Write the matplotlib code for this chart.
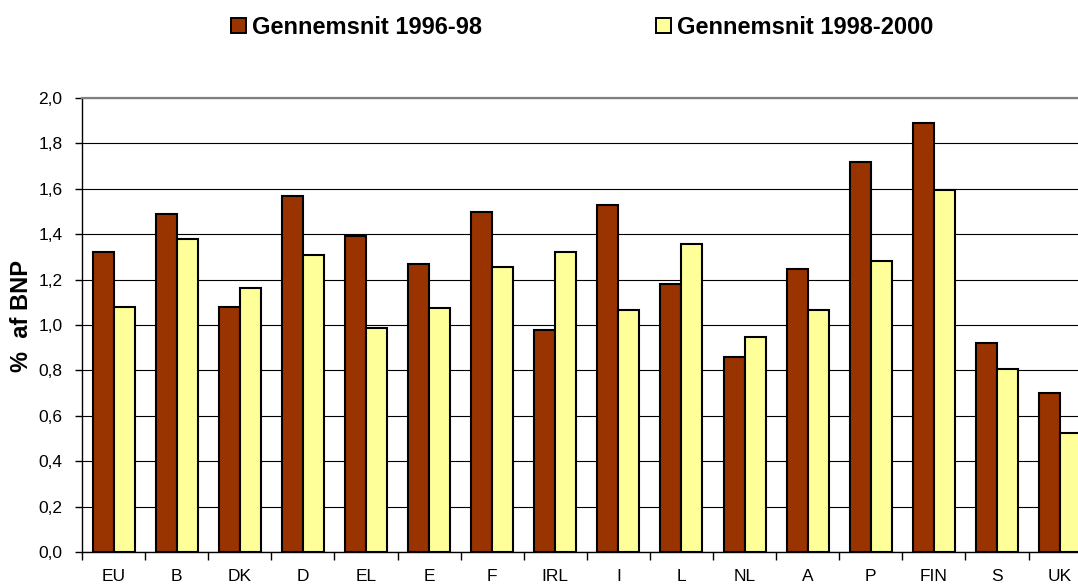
import numpy as np
import matplotlib
matplotlib.use("Agg")
import matplotlib.pyplot as plt
from matplotlib.patches import Patch

plt.rcParams["font.family"] = ["Liberation Sans", "DejaVu Sans"]

countries = ["EU", "B", "DK", "D", "EL", "E", "F", "IRL", "I", "L",
             "NL", "A", "P", "FIN", "S", "UK"]
avg_1996_98 = [1.32, 1.49, 1.08, 1.57, 1.39, 1.27, 1.50, 0.98, 1.53, 1.18,
               0.86, 1.245, 1.72, 1.89, 0.92, 0.70]
avg_1998_2000 = [1.08, 1.38, 1.165, 1.31, 0.985, 1.075, 1.255, 1.32, 1.065, 1.355,
                 0.945, 1.065, 1.28, 1.595, 0.805, 0.525]
series_names = ["Gennemsnit 1996-98", "Gennemsnit 1998-2000"]
yticks = [0.0, 0.2, 0.4, 0.6, 0.8, 1.0, 1.2, 1.4, 1.6, 1.8, 2.0]

c_dark = "#993300"
c_light = "#FFFF99"

W, H = 1078, 586
fig = plt.figure(figsize=(W / 100, H / 100), dpi=100)
ax = fig.add_axes([82 / W, 34 / H, 1009.6 / W, 454 / H])

x = np.arange(len(countries))
bw = 1 / 3
ax.bar(x - bw / 2, avg_1996_98, bw, color=c_dark, edgecolor="black",
       linewidth=1.5, zorder=3)
ax.bar(x + bw / 2, avg_1998_2000, bw, color=c_light, edgecolor="black",
       linewidth=1.5, zorder=3)

ax.set_xlim(-0.5, len(countries) - 0.5)
ax.set_ylim(0, 2.0)
ax.set_yticks(yticks)
ax.set_yticklabels([f"{v:.1f}".replace(".", ",") for v in yticks], fontsize=12.5)
ax.yaxis.grid(True, color="black", linewidth=0.8, zorder=0)
ax.set_axisbelow(True)

ax.set_xticks(x)
ax.set_xticklabels(countries, fontsize=12.5)
ax.tick_params(axis="x", length=0, pad=12)
ax.set_xticks(np.arange(-0.5, len(countries)), minor=True)
ax.tick_params(axis="x", which="minor", length=6, width=1, color="black")
ax.tick_params(axis="y", length=5, width=1, pad=9)

for s in ["top", "right"]:
    ax.spines[s].set_color("#808080")
    ax.spines[s].set_linewidth(1.6)
for s in ["left", "bottom"]:
    ax.spines[s].set_color("black")
    ax.spines[s].set_linewidth(1)

fig.text(22 / W, 1 - 316 / H, "%  af BNP", rotation=90, fontsize=17,
         fontweight="bold", ha="center", va="center")

handles = [Patch(facecolor=c_dark, edgecolor="black", linewidth=1.4),
           Patch(facecolor=c_light, edgecolor="black", linewidth=1.4)]
fig.legend(handles, series_names, loc="center left",
           bbox_to_anchor=(231 / W, 1 - 27 / H), ncol=2, frameon=False,
           borderpad=0, borderaxespad=0, handlelength=0.62, handleheight=0.62,
           handletextpad=0.25, columnspacing=7.4,
           prop={"size": 17, "weight": "bold"})

fig.savefig("out.png", dpi=100)
